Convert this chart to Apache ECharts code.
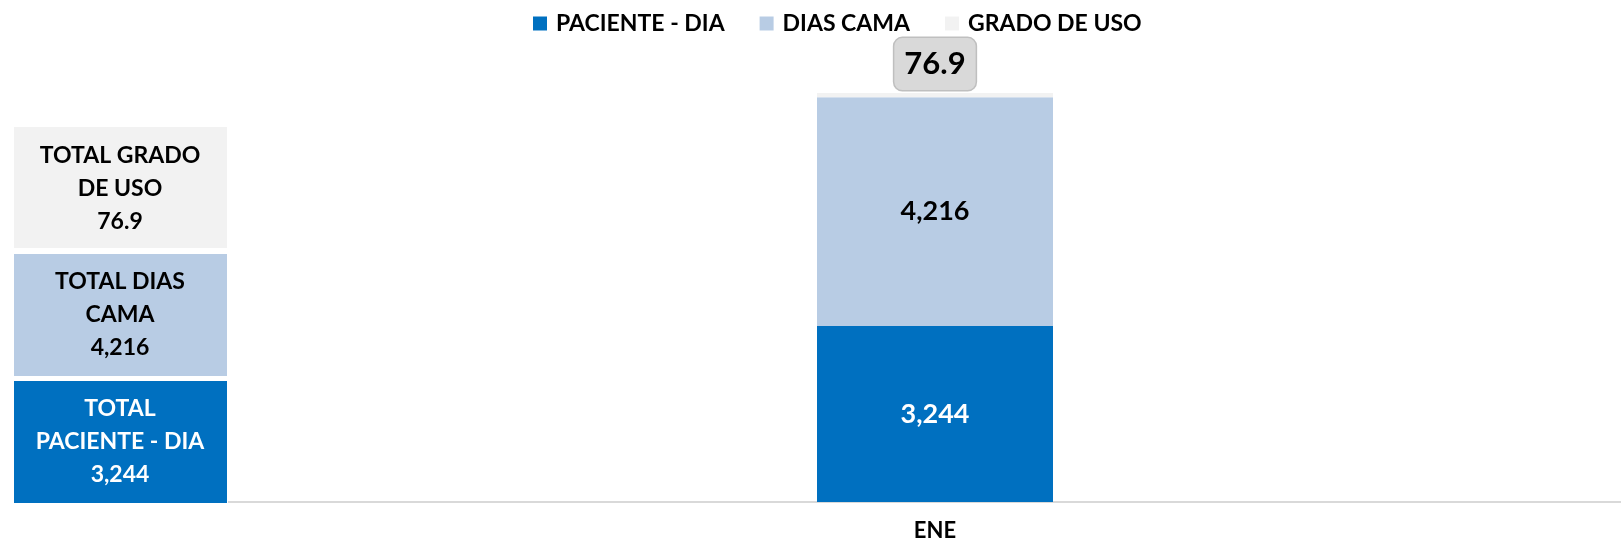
<!DOCTYPE html>
<html>
<head>
<meta charset="utf-8">
<script src="https://cdn.jsdelivr.net/npm/echarts@6/dist/echarts.min.js"></script>
<style>
  html, body {margin: 0; padding: 0; background: #fff;}
  #chart {width: 1621px; height: 542px;}
</style>
</head>
<body>
<div id="chart"></div>
<script>
// datos del grafico
const months = ['ENE'];
const pacienteDia = [3244];
const diasCama = [4216];
const gradoUso = [76.9];

const FONT = 'Lato, "Open Sans", sans-serif';
const fmt = v => v.toLocaleString('en-US');

// cajas de totales a la izquierda
function totalBox(y, h, fill, lines, color, midY) {
  return [
    {type: 'rect', shape: {x: 14, y: y, width: 213, height: h}, style: {fill: fill}},
    {
      type: 'text', x: 120, y: midY,
      style: {
        text: lines.join('\n'), fill: color, font: 'bold 23px ' + FONT,
        align: 'center', verticalAlign: 'middle', lineHeight: 33
      }
    }
  ];
}

const chart = echarts.init(document.getElementById('chart'));
chart.setOption({
  animation: false,
  legend: {
    top: 7, left: 528, itemWidth: 14, itemHeight: 14, itemGap: 35, icon: 'rect',
    textStyle: {fontFamily: FONT, fontWeight: 'bold', fontSize: 23, color: '#000', padding: [0, 0, 0, 4]},
    data: ['PACIENTE - DIA', 'DIAS CAMA', 'GRADO DE USO']
  },
  grid: {left: 249, right: 0, top: 68, bottom: 40},
  xAxis: {
    type: 'category', data: months,
    axisLine: {lineStyle: {color: '#d9d9d9', width: 2}},
    axisTick: {show: false},
    axisLabel: {fontFamily: FONT, fontWeight: 'bold', fontSize: 22, color: '#000', margin: 18}
  },
  yAxis: {type: 'value', min: 0, max: 8000, show: false, splitLine: {show: false}},
  series: [
    {
      name: 'PACIENTE - DIA', type: 'bar', stack: 'a', barWidth: 236, data: pacienteDia,
      itemStyle: {color: '#0070c0'},
      label: {show: true, position: 'inside', color: '#fff', fontFamily: FONT, fontWeight: 'bold', fontSize: 27,
        formatter: p => fmt(p.value)}
    },
    {
      name: 'DIAS CAMA', type: 'bar', stack: 'a', data: diasCama,
      itemStyle: {color: '#b8cce4'},
      label: {show: true, position: 'inside', color: '#000', fontFamily: FONT, fontWeight: 'bold', fontSize: 27,
        formatter: p => fmt(p.value)}
    },
    {
      name: 'GRADO DE USO', type: 'bar', stack: 'a', data: gradoUso,
      itemStyle: {color: '#f2f2f2'},
      label: {
        show: true, position: 'top', distance: 3, color: '#000',
        fontFamily: FONT, fontWeight: 'bold', fontSize: 31, lineHeight: 34,
        backgroundColor: '#d9d9d9', borderColor: '#bfbfbf', borderWidth: 1.5, borderRadius: 8,
        padding: [9, 10, 9, 10]
      }
    }
  ],
  graphic: [
    // tramo del eje que queda entre las cajas y el area de trazado
    {type: 'line', shape: {x1: 228, y1: 502, x2: 250, y2: 502}, style: {stroke: '#d9d9d9', lineWidth: 2}},
    ...totalBox(127, 121, '#f2f2f2', ['TOTAL GRADO', 'DE USO', String(gradoUso[0])], '#000', 189),
    ...totalBox(254, 122, '#b8cce4', ['TOTAL DIAS', 'CAMA', fmt(diasCama[0])], '#000', 315),
    ...totalBox(381, 122, '#0070c0', ['TOTAL', 'PACIENTE - DIA', fmt(pacienteDia[0])], '#fff', 442)
  ]
});
</script>
</body>
</html>
